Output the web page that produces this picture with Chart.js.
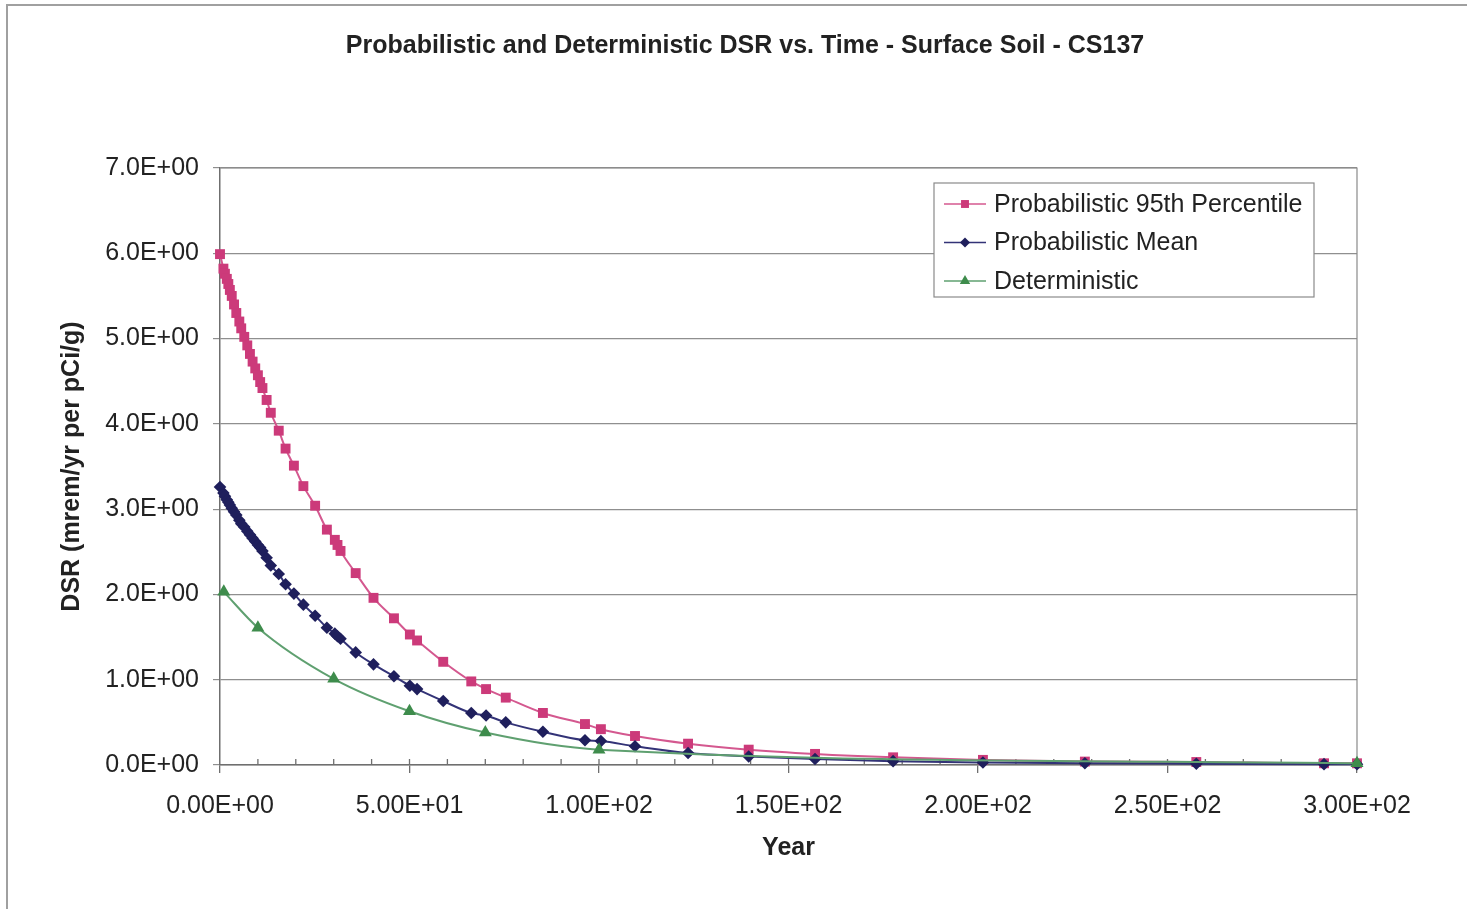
<!DOCTYPE html>
<html>
<head>
<meta charset="utf-8">
<script src="https://cdn.jsdelivr.net/npm/chart.js@4.4.1/dist/chart.umd.min.js"></script>
<style>
  html, body { margin: 0; padding: 0; background: #ffffff; }
  #wrap { width: 1467px; height: 909px; position: relative; }
</style>
</head>
<body>
<div id="wrap"><canvas id="c" width="1467" height="909"></canvas></div>
<script>
// ---- data ----
const chartTitle = 'Probabilistic and Deterministic DSR vs. Time - Surface Soil - CS137';
const xAxisTitle = 'Year';
const yAxisTitle = 'DSR (mrem/yr per pCi/g)';
const seriesNames = ['Probabilistic 95th Percentile', 'Probabilistic Mean', 'Deterministic'];

const probYears = [0, 0.9, 1.3, 1.8, 2.2, 2.6, 3.1, 3.7, 4.3, 5.1, 5.6, 6.4, 7.2, 7.9, 8.6, 9.3, 10.0, 10.6, 11.2, 12.3, 13.4,
  15.5, 17.3, 19.5, 22.0, 25.1, 28.2, 30.3, 31.0, 31.8, 35.8, 40.5, 45.9, 50.1, 52.0, 58.9, 66.3, 70.2, 75.4, 85.2, 96.3,
  100.5, 109.5, 123.5, 139.5, 157, 177.6, 201.3, 228.2, 257.6, 291.3, 300];

const p95Values = [5.99, 5.82, 5.76, 5.70, 5.64, 5.57, 5.50, 5.40, 5.30, 5.20, 5.12, 5.02, 4.92, 4.82, 4.73, 4.65, 4.57, 4.49, 4.42, 4.28, 4.13,
  3.92, 3.71, 3.51, 3.27, 3.04, 2.76, 2.64, 2.58, 2.51, 2.25, 1.96, 1.72, 1.53, 1.46, 1.21, 0.98, 0.89, 0.79, 0.61, 0.48,
  0.42, 0.34, 0.25, 0.18, 0.13, 0.09, 0.06, 0.04, 0.035, 0.02, 0.02];

const meanValues = [3.26, 3.19, 3.15, 3.11, 3.08, 3.05, 3.01, 2.97, 2.93, 2.87, 2.83, 2.79, 2.74, 2.70, 2.66, 2.62, 2.58, 2.55, 2.51, 2.43, 2.34,
  2.24, 2.12, 2.01, 1.88, 1.75, 1.61, 1.54, 1.51, 1.48, 1.32, 1.18, 1.04, 0.93, 0.89, 0.75, 0.61, 0.58, 0.50, 0.39, 0.29,
  0.28, 0.22, 0.14, 0.10, 0.07, 0.045, 0.03, 0.02, 0.015, 0.01, 0.01];

const detYears = [1, 10, 30, 50, 70, 100, 300];
const detValues = [2.03, 1.61, 1.01, 0.63, 0.38, 0.18, 0.02];

const xTickValues = [0, 50, 100, 150, 200, 250, 300];
const yTickValues = [0, 1, 2, 3, 4, 5, 6, 7];

// ---- helpers ----
function sci(v, digits) {
  const s = Number(v).toExponential(digits).toUpperCase();
  const parts = s.split('E');
  const sign = parts[1][0] === '-' ? '-' : '+';
  const e = parts[1].replace(/[+-]/, '').padStart(2, '0');
  return parts[0] + 'E' + sign + e;
}
function pts(xs, ys) { return xs.map((x, i) => ({ x: x, y: ys[i] })); }

const FONT = "'Liberation Sans', Arial, sans-serif";
const styles = [
  { line: '#d4588f', fill: '#cc3a7a', shape: 'rect', r: 7 },
  { line: '#333377', fill: '#1f1f5c', shape: 'rectRot', r: 6.3 },
  { line: '#5fa070', fill: '#3e8c4c', shape: 'triangle', r: 7.5 }
];

const LEFT_PAD = 23;    // layout padding so the title centres where the reference does
const AXIS_W = 220;     // pixel position of the plot's left edge
const RIGHT_W = 110;    // blank band right of the plot

const frame = {
  id: 'frame',
  beforeDraw(chart) {
    const ctx = chart.ctx;
    ctx.save();
    ctx.strokeStyle = '#a0a0a0';
    ctx.lineWidth = 2;
    ctx.beginPath();
    ctx.moveTo(7, 909); ctx.lineTo(7, 5); ctx.lineTo(1467, 5);
    ctx.stroke();
    ctx.restore();
  },
  beforeDatasetsDraw(chart) {
    const ctx = chart.ctx, a = chart.chartArea, xs = chart.scales.x;
    ctx.save();
    ctx.strokeStyle = '#8a8a8a';
    ctx.lineWidth = 1.2;
    ctx.beginPath();
    ctx.moveTo(a.left, a.top); ctx.lineTo(a.right, a.top); ctx.lineTo(a.right, a.bottom);
    ctx.stroke();
    // inner minor ticks on the x axis every 10 years
    ctx.strokeStyle = '#6f6f6f';
    ctx.lineWidth = 1.3;
    ctx.beginPath();
    for (let v = 10; v <= 300; v += 10) {
      const px = xs.getPixelForValue(v);
      ctx.moveTo(px, a.bottom); ctx.lineTo(px, a.bottom - 6);
    }
    ctx.stroke();
    ctx.restore();
  }
};

function drawMarker(ctx, shape, r, x, y) {
  ctx.beginPath();
  if (shape === 'rect') {
    const s = r * Math.SQRT1_2;
    ctx.rect(x - s, y - s, 2 * s, 2 * s);
  } else if (shape === 'rectRot') {
    ctx.moveTo(x, y - r); ctx.lineTo(x + r, y); ctx.lineTo(x, y + r); ctx.lineTo(x - r, y); ctx.closePath();
  } else {
    const w = r * Math.sqrt(3) / 2;
    ctx.moveTo(x, y - r); ctx.lineTo(x + w, y + r / 2); ctx.lineTo(x - w, y + r / 2); ctx.closePath();
  }
  ctx.fill();
}

const legendBox = {
  id: 'legendBox',
  afterDraw(chart) {
    const ctx = chart.ctx, a = chart.chartArea;
    const w = 380, h = 114;
    const bx = a.right - 43 - w, by = a.top + 15;
    ctx.save();
    ctx.fillStyle = '#ffffff';
    ctx.fillRect(bx, by, w, h);
    ctx.strokeStyle = '#8a8a8a';
    ctx.lineWidth = 1.2;
    ctx.strokeRect(bx, by, w, h);
    ctx.font = '25px ' + FONT;
    ctx.textBaseline = 'middle';
    ctx.textAlign = 'left';
    for (let i = 0; i < seriesNames.length; i++) {
      const st = styles[i];
      const y = by + 21 + i * 38.5;
      ctx.strokeStyle = st.line; ctx.lineWidth = 1.6;
      ctx.beginPath(); ctx.moveTo(bx + 10, y); ctx.lineTo(bx + 52, y); ctx.stroke();
      ctx.fillStyle = st.fill;
      drawMarker(ctx, st.shape, st.r * 0.8, bx + 31, y);
      ctx.fillStyle = '#222222';
      ctx.fillText(seriesNames[i], bx + 60, y + 1);
    }
    ctx.restore();
  }
};

const seriesData = [pts(probYears, p95Values), pts(probYears, meanValues), pts(detYears, detValues)];
const datasets = seriesData.map((d, i) => ({
  label: seriesNames[i],
  data: d,
  xAxisID: 'x',
  yAxisID: 'y',
  borderColor: styles[i].line,
  backgroundColor: styles[i].fill,
  pointBackgroundColor: styles[i].fill,
  pointBorderColor: styles[i].fill,
  pointBorderWidth: 0,
  pointStyle: styles[i].shape,
  pointRadius: styles[i].r,
  pointHoverRadius: styles[i].r,
  borderWidth: 2,
  cubicInterpolationMode: 'monotone',
  fill: false,
  clip: false,
  order: 2 - i
}));

new Chart(document.getElementById('c'), {
  type: 'line',
  data: { datasets: datasets },
  options: {
    responsive: false,
    animation: false,
    events: [],
    layout: { padding: { left: LEFT_PAD, right: 0, top: 0, bottom: 0 } },
    plugins: {
      legend: { display: false },
      tooltip: { enabled: false },
      title: {
        display: true,
        text: chartTitle,
        color: '#222222',
        font: { family: FONT, size: 25, weight: 'bold', lineHeight: 1.2 },
        padding: { top: 31, bottom: 107 }
      }
    },
    scales: {
      x: {
        type: 'linear',
        min: 0, max: 300,
        afterBuildTicks(scale) { scale.ticks = xTickValues.map(v => ({ value: v })); },
        afterFit(scale) { scale.height = 144; },
        ticks: {
          callback: v => sci(v, 2),
          color: '#222222',
          font: { family: FONT, size: 25 },
          padding: 18,
          maxRotation: 0,
          autoSkip: false
        },
        grid: { drawOnChartArea: false, tickLength: 8, color: '#6f6f6f', lineWidth: 1.3 },
        border: { color: '#6f6f6f', width: 1.5 },
        title: {
          display: true, text: xAxisTitle, color: '#222222',
          font: { family: FONT, size: 25, weight: 'bold', lineHeight: 1.2 },
          padding: { top: 0, bottom: 46 }
        }
      },
      y: {
        type: 'linear',
        position: 'left',
        min: 0, max: 7,
        afterBuildTicks(scale) { scale.ticks = yTickValues.map(v => ({ value: v })); },
        afterFit(scale) { scale.width = AXIS_W - LEFT_PAD; },
        ticks: {
          callback: v => sci(v, 1),
          color: '#222222',
          font: { family: FONT, size: 25 },
          padding: 14
        },
        grid: { color: '#8f8f8f', lineWidth: 1.2, tickLength: 7 },
        border: { color: '#6f6f6f', width: 1.5 },
        title: {
          display: true, text: yAxisTitle, color: '#222222',
          font: { family: FONT, size: 25, weight: 'bold', lineHeight: 1.2 },
          padding: { top: 72 - 15 - LEFT_PAD, bottom: 0 }
        }
      },
      yRight: {
        type: 'linear',
        position: 'right',
        min: 0, max: 7,
        afterFit(scale) { scale.width = RIGHT_W; },
        ticks: { display: false },
        grid: { display: false, drawOnChartArea: false },
        border: { display: false },
        title: { display: false }
      }
    }
  },
  plugins: [frame, legendBox]
});
</script>
</body>
</html>
